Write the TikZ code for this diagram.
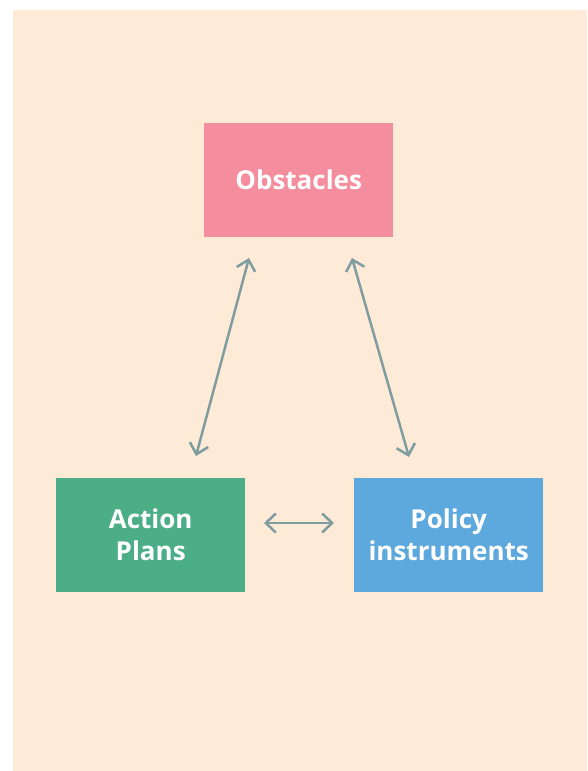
\documentclass[tikz,border=0pt]{standalone}
\usepackage{fontspec}
\setmainfont{Open Sans}
\usetikzlibrary{arrows.meta}
\definecolor{bgpeach}{HTML}{FDEBD8}
\definecolor{obspink}{HTML}{F48D9D}
\definecolor{actgreen}{HTML}{4BAE87}
\definecolor{polblue}{HTML}{5DA8DC}
\definecolor{arrgrey}{HTML}{7F9C9F}
\tikzset{
  box/.style={minimum width=189pt, minimum height=114pt, inner sep=0pt, text=white,
    font=\fontsize{26}{32}\selectfont\bfseries, align=center, anchor=north west},
  link/.style={draw=arrgrey, line width=2.5pt, {Straight Barb[length=10pt,width=19pt]}-{Straight Barb[length=10pt,width=19pt]}}
}
\begin{document}
\begin{tikzpicture}[x=1pt,y=-1pt]
\useasboundingbox (0,0) rectangle (587,771);
\fill[bgpeach] (13,10) rectangle (587,771);
\node[box, fill=obspink] (obs) at (204,123) {Obstacles};
\node[box, fill=actgreen] (act) at (56,478) {Action\\Plans};
\node[box, fill=polblue] (pol) at (354,478) {Policy\\instruments};
\coordinate (oa) at (249,258);
\coordinate (ao) at (196,456);
\coordinate (op) at (352,258);
\coordinate (po) at (409,457);
\coordinate (ap) at (264,523);
\coordinate (pa) at (334,523);
\draw[link] (oa) -- (ao);
\draw[link] (op) -- (po);
\draw[link] (ap) -- (pa);
\end{tikzpicture}
\end{document}
